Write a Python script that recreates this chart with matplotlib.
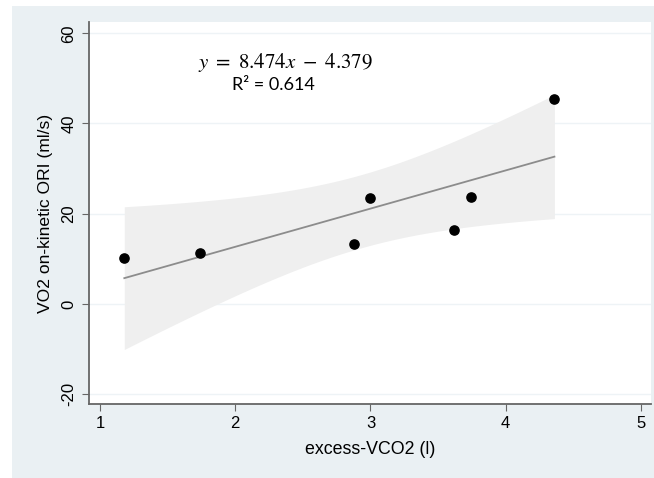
import numpy as np
import matplotlib
matplotlib.use("Agg")
import matplotlib.pyplot as plt
from matplotlib.patches import Rectangle

# data
excess_vco2 = [1.18, 1.74, 2.88, 3.00, 3.62, 3.74, 4.36]
vo2_ori = [10.2, 11.3, 13.3, 23.5, 16.4, 23.7, 45.4]
x_ticks = [1, 2, 3, 4, 5]
y_ticks = [-20, 0, 20, 40, 60]
eq_text = r"$y\ =\ 8.474x\ -\ 4.379$"
r2_text = "R² = 0.614"

plt.rcParams["font.family"] = ["Liberation Sans", "DejaVu Sans"]
plt.rcParams["mathtext.fontset"] = "stix"

x = np.array(excess_vco2)
y = np.array(vo2_ori)
n = len(x)

# linear fit + 95% CI of the mean (like Stata lfitci)
b, a = np.polyfit(x, y, 1)
xs = np.linspace(x.min(), x.max(), 100)
fit = a + b * xs
resid = y - (a + b * x)
s = np.sqrt(np.sum(resid ** 2) / (n - 2))
sxx = np.sum((x - x.mean()) ** 2)
se = s * np.sqrt(1 / n + (xs - x.mean()) ** 2 / sxx)
t = 2.5706  # t(0.975, 5)
lo, hi = fit - t * se, fit + t * se

fig = plt.figure(figsize=(6.54, 4.78), dpi=100, facecolor="white")
fig.patches.append(Rectangle((12 / 654, 0), 1, 1 - 6 / 478, transform=fig.transFigure,
                             facecolor="#eaf0f3", edgecolor="none", zorder=-5))
ax = fig.add_axes([89 / 654, (478 - 404) / 478, (651 - 89) / 654, (404 - 22) / 478])
ax.set_zorder(1)
ax.set_facecolor("white")

for yt in y_ticks:
    ax.axhline(yt, color="#eef3f6", lw=1, zorder=0)

ax.fill_between(xs, lo, hi, color="#efefef", lw=0, zorder=1)
ax.plot(xs, fit, color="#8c8c8c", lw=1.3, zorder=2)
ax.scatter(x, y, s=44, color="black", zorder=3)

ax.set_xlim(0.919, 5.074)
ax.set_ylim(-22.2, 62.5)
ax.set_xticks(x_ticks)
ax.set_yticks(y_ticks)
ax.set_yticklabels([str(v) for v in y_ticks], rotation=90, va="center")
ax.tick_params(direction="out", length=5, color="#666666", labelsize=12, pad=4)

for side in ["top", "right"]:
    ax.spines[side].set_visible(False)
for side in ["left", "bottom"]:
    ax.spines[side].set_color("#666666")
    ax.spines[side].set_linewidth(1.3)

ax.set_xlabel("excess-VCO2 (l)", fontsize=12.8, labelpad=7)
ax.set_ylabel("VO2 on-kinetic ORI (ml/s)", fontsize=12.6, labelpad=6)

ax.text(2.37, 52.3, eq_text, fontsize=15, ha="center", va="baseline")
ax.text(2.28, 47.4, r2_text, fontsize=13, ha="center", va="baseline", family=["Lato", "DejaVu Sans"])

plt.savefig("out.png", dpi=100)
